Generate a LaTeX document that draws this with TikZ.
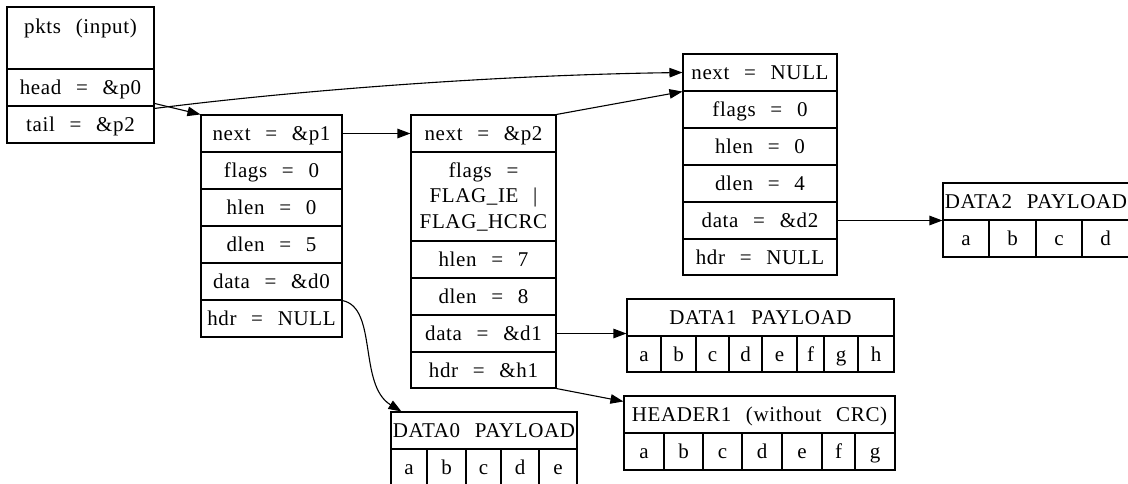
\documentclass[tikz,border=0pt]{standalone}
\usepackage{fontspec}
\setmainfont{Liberation Serif}
\newfontfamily\gvfont[LetterSpace=3,WordSpace=2.5]{Liberation Serif}
\usetikzlibrary{arrows.meta}
\newcommand{\gv}{\gvfont\fontsize{21}{24}\selectfont}
\newcommand{\gvb}{\gvfont\fontsize{21}{25.5}\selectfont}
\begin{document}
\begin{tikzpicture}[x=1pt,y=-1pt,
  box/.style={draw, line width=1.1pt, inner sep=0pt, align=center, font=\gv, minimum height=37pt},
  cell/.style={box, text height=16pt, text depth=2pt},
  arr/.style={-{Triangle[length=13pt,width=9.5pt]}, line width=1.1pt}]
\clip (0,0) rectangle (1128,483);
\fill[white] (0,0) rectangle (1128,483);
% pkts
\node[box, minimum width=147pt, minimum height=62pt] (pktstitle) at (80.5,38) {pkts (input)\\~};
\node[cell, minimum width=147pt] (pktshead) at (80.5,87.5) {head = \&p0};
\node[cell, minimum width=147pt] (pktstail) at (80.5,124.5) {tail = \&p2};
% p0
\node[cell, minimum width=141pt] (p0next) at (271.5,133.5) {next = \&p1};
\node[cell, minimum width=141pt] (p0flags) at (271.5,170.5) {flags = 0};
\node[cell, minimum width=141pt] (p0hlen) at (271.5,207.5) {hlen = 0};
\node[cell, minimum width=141pt] (p0dlen) at (271.5,244.5) {dlen = 5};
\node[cell, minimum width=141pt] (p0data) at (271.5,281.5) {data = \&d0};
\node[cell, minimum width=141pt] (p0hdr) at (271.5,318.5) {hdr = NULL};
% p1
\node[cell, minimum width=145pt] (p1next) at (483.5,133.5) {next = \&p2};
\node[box, minimum width=145pt, minimum height=89pt, font=\gvb] (p1flags) at (483.5,196.5) {flags =\\FLAG\_IE |\\FLAG\_HCRC};
\node[cell, minimum width=145pt] (p1hlen) at (483.5,259.5) {hlen = 7};
\node[cell, minimum width=145pt] (p1dlen) at (483.5,296.5) {dlen = 8};
\node[cell, minimum width=145pt] (p1data) at (483.5,333.5) {data = \&d1};
\node[cell, minimum width=145pt, minimum height=36pt] (p1hdr) at (483.5,370) {hdr = \&h1};
% p2
\node[cell, minimum width=154pt] (p2next) at (760,72.5) {next = NULL};
\node[cell, minimum width=154pt] (p2flags) at (760,109.5) {flags = 0};
\node[cell, minimum width=154pt] (p2hlen) at (760,146.5) {hlen = 0};
\node[cell, minimum width=154pt] (p2dlen) at (760,183.5) {dlen = 4};
\node[cell, minimum width=154pt] (p2data) at (760,220.5) {data = \&d2};
\node[cell, minimum width=154pt, minimum height=36pt] (p2hdr) at (760,257) {hdr = NULL};
% DATA2
\node[cell, minimum width=186pt] (d2title) at (1036,201.5) {DATA2 PAYLOAD};
\node[cell, minimum width=46pt] (d2a) at (966,238.5) {a};
\node[cell, minimum width=47pt] (d2b) at (1012.5,238.5) {b};
\node[cell, minimum width=46pt] (d2c) at (1059,238.5) {c};
\node[cell, minimum width=47pt] (d2d) at (1105.5,238.5) {d};
% DATA1
\node[cell, minimum width=267pt] (d1title) at (760.5,317.5) {DATA1 PAYLOAD};
\node[cell, minimum width=34pt, minimum height=36pt] (d1a) at (644,354) {a};
\node[cell, minimum width=35pt, minimum height=36pt] (d1b) at (678.5,354) {b};
\node[cell, minimum width=33pt, minimum height=36pt] (d1c) at (712.5,354) {c};
\node[cell, minimum width=33pt, minimum height=36pt] (d1d) at (745.5,354) {d};
\node[cell, minimum width=35pt, minimum height=36pt] (d1e) at (779.5,354) {e};
\node[cell, minimum width=27pt, minimum height=36pt] (d1f) at (810.5,354) {f};
\node[cell, minimum width=34pt, minimum height=36pt] (d1g) at (841,354) {g};
\node[cell, minimum width=36pt, minimum height=36pt] (d1h) at (876,354) {h};
% HEADER1
\node[cell, minimum width=271pt] (h1title) at (759.5,414.5) {HEADER1 (without CRC)};
\node[cell, minimum width=40pt] (h1a) at (644,451.5) {a};
\node[cell, minimum width=39pt] (h1b) at (683.5,451.5) {b};
\node[cell, minimum width=39pt] (h1c) at (722.5,451.5) {c};
\node[cell, minimum width=40pt] (h1d) at (762,451.5) {d};
\node[cell, minimum width=40pt] (h1e) at (802,451.5) {e};
\node[cell, minimum width=33pt] (h1f) at (838.5,451.5) {f};
\node[cell, minimum width=40pt] (h1g) at (875,451.5) {g};
% DATA0
\node[cell, minimum width=186pt] (d0title) at (484,430.5) {DATA0 PAYLOAD};
\node[cell, minimum width=36pt] (d0a) at (409,467.5) {a};
\node[cell, minimum width=39pt] (d0b) at (446.5,467.5) {b};
\node[cell, minimum width=35pt] (d0c) at (483.5,467.5) {c};
\node[cell, minimum width=38pt] (d0d) at (520,467.5) {d};
\node[cell, minimum width=38pt] (d0e) at (558,467.5) {e};
% connectors
\draw[arr] ([yshift=2pt]pktstail.north east) -- (p0next.north west);
\draw[arr] ([yshift=-3pt]pktstail.north east) .. controls (300,90) and (500,75) .. (p2next.west);
\draw[arr] (p0next.east) -- (p1next.west);
\draw[arr] (p1next.north east) -- (p2next.south west);
\draw[arr] (p0data.south east) .. controls (378,308) and (358,385) .. ([xshift=11pt]d0title.north west);
\draw[arr] (p1data.east) -- (p1data.east -| d1title.west);
\draw[arr] (p1hdr.south east) -- ([yshift=-6pt]h1title.north west);
\draw[arr] (p2data.east) -- (p2data.east -| d2title.west);
\end{tikzpicture}
\end{document}
